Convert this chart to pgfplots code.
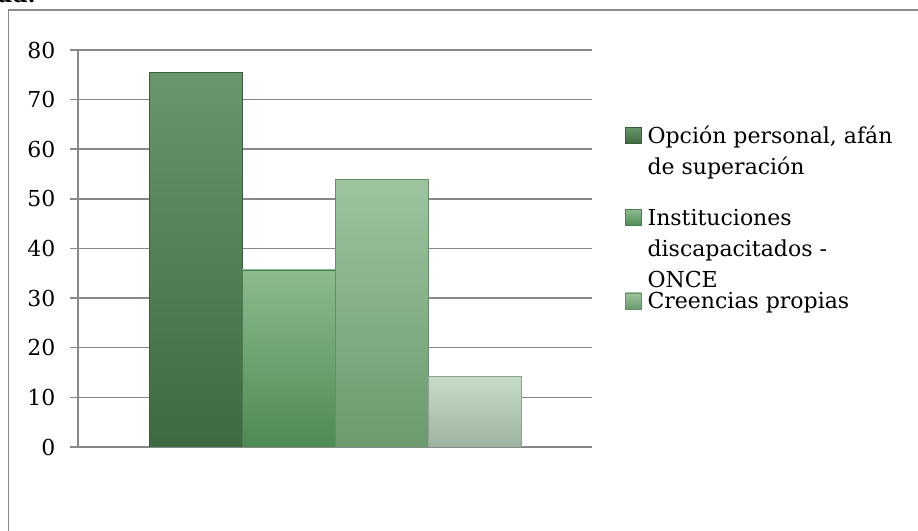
\documentclass[border=0pt]{standalone}
\usepackage{pgfplots}
\pgfplotsset{compat=1.18}
\usepackage{fontspec}
\setmainfont{DejaVu Serif}
\definecolor{gridgray}{HTML}{888888}
\definecolor{framegray}{HTML}{8A8A8A}
\definecolor{aT}{HTML}{6A966D}\definecolor{aB}{HTML}{3E6A41}\definecolor{aE}{HTML}{3A5E3C}
\definecolor{bT}{HTML}{8CBB8F}\definecolor{bB}{HTML}{4E8A55}\definecolor{bE}{HTML}{4A7A4F}
\definecolor{cT}{HTML}{9DC49F}\definecolor{cB}{HTML}{6A9A6E}\definecolor{cE}{HTML}{668E69}
\definecolor{dT}{HTML}{C6DCC6}\definecolor{dB}{HTML}{9EB4A0}\definecolor{dE}{HTML}{8FA391}
\newcommand{\entry}[3]{\raisebox{0pt}[#1][#2]{\begin{tabular}[t]{@{}l@{}}#3\end{tabular}}}
\pgfplotsset{sqlegend/.style={legend image code/.code={\draw[##1] (0pt,0pt) rectangle (16pt,16pt);}}}
\begin{document}
\begin{tikzpicture}[x=1pt,y=1pt]
\useasboundingbox (0,0) rectangle (918,530);
\clip (0,0) rectangle (918,530);
\draw[framegray, line width=1.2pt] (8.5,520) rectangle (940,-20);
\node[anchor=base west, inner sep=0pt, font=\fontsize{22}{26}\selectfont\bfseries] at (-2,527) {ad.};
\begin{axis}[
  at={(78pt,83pt)}, anchor=south west,
  scale only axis, width=514pt, height=397pt,
  xmin=0, xmax=1, ymin=0, ymax=80,
  ytick={0,10,...,80}, xtick=\empty,
  axis lines=left,
  axis line style={-, draw=gridgray, line width=1.5pt},
  ymajorgrids, grid style={gridgray, line width=1.5pt},
  major tick length=8pt, tick align=outside,
  tick style={gridgray, line width=1.5pt},
  /pgf/number format/assume math mode=true,
  yticklabel style={font=\fontsize{22}{26}\selectfont, text=black, xshift=-11pt},
  ybar=0pt, bar width=93pt,
  legend style={draw=none, fill=none, inner sep=0pt, outer sep=0pt,
    at={(1.0642,0.8060)}, anchor=north west,
    column sep=6pt, row sep=0pt,
    font=\fontsize{22}{31}\selectfont,
    nodes={inner sep=0pt, text depth=, text height=},
    cells={anchor=base west}},
]
\addplot[bar shift=-139.5pt, top color=aT, bottom color=aB, draw=aE, line width=0.6pt, sqlegend] coordinates {(0.5,75.5)};
\addlegendentry{\entry{16pt}{66pt}{Opción personal, afán\\de superación}}
\addplot[bar shift=-46.5pt, top color=bT, bottom color=bB, draw=bE, line width=0.6pt, sqlegend] coordinates {(0.5,35.7)};
\addlegendentry{\entry{16pt}{67pt}{Instituciones\\discapacitados -\\ONCE}}
\addplot[bar shift=46.5pt, top color=cT, bottom color=cB, draw=cE, line width=0.6pt, sqlegend] coordinates {(0.5,53.9)};
\addlegendentry{\entry{16pt}{10pt}{Creencias propias}}
\addplot[bar shift=139.5pt, top color=dT, bottom color=dB, draw=dE, line width=0.6pt, forget plot] coordinates {(0.5,14.3)};
\end{axis}
\end{tikzpicture}
\end{document}
